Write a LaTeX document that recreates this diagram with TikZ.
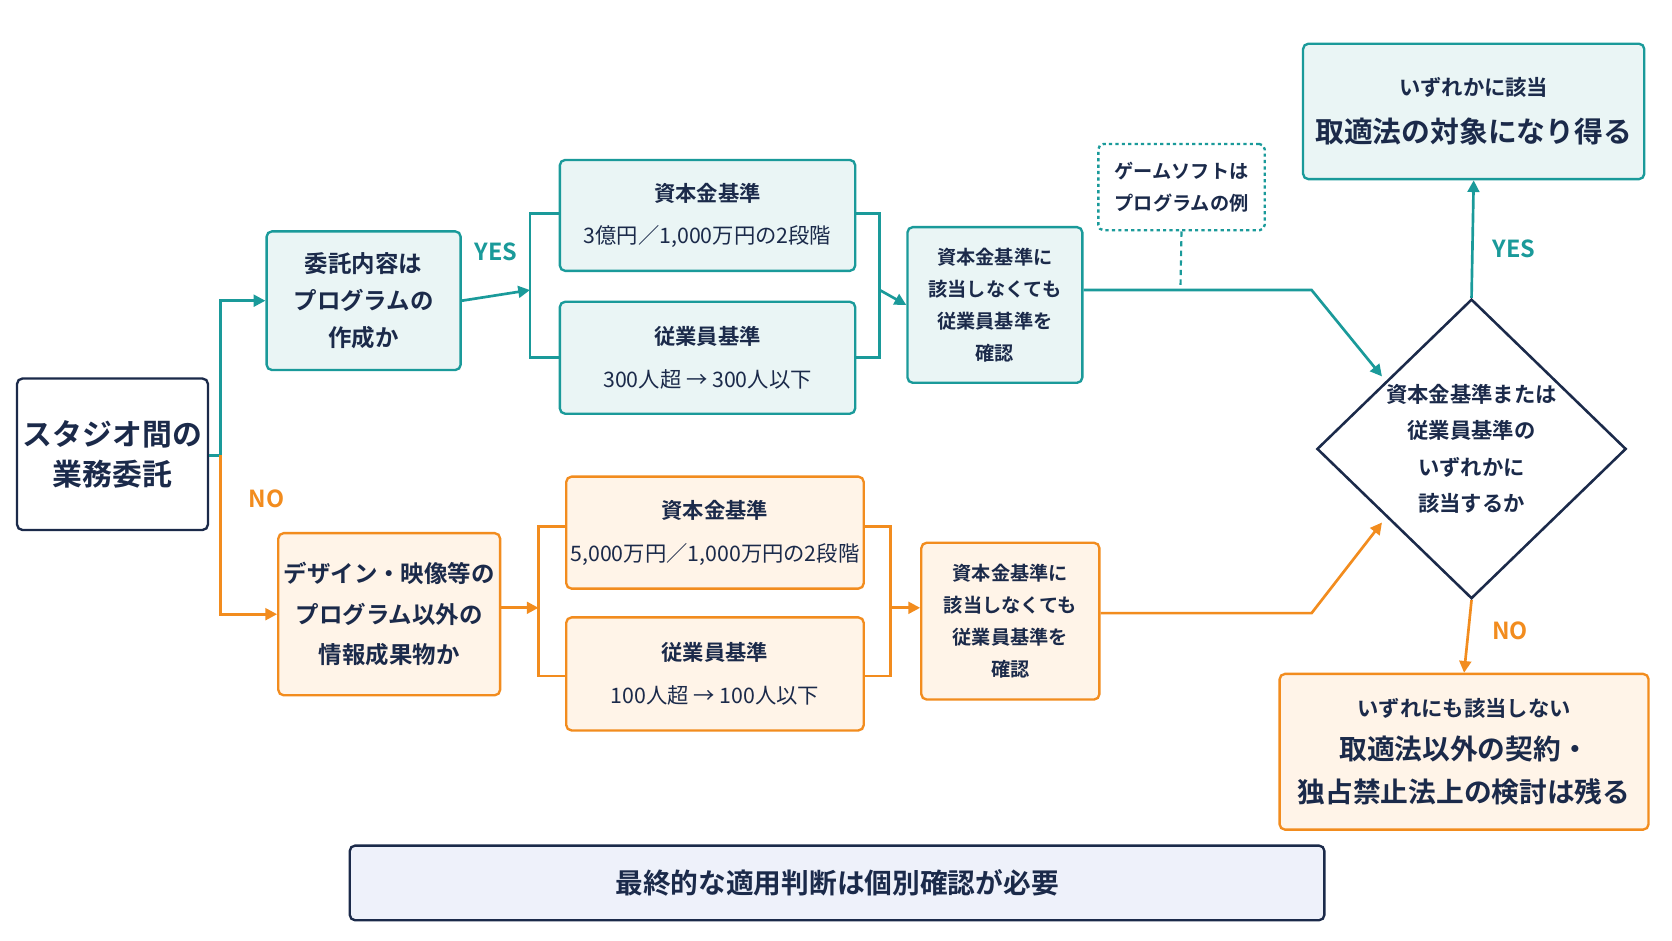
\documentclass[tikz,border=0pt]{standalone}
\usepackage{fontspec}
\setmainfont{Noto Sans CJK JP}[BoldFont={Noto Sans CJK JP Bold}]
\usetikzlibrary{arrows.meta,shapes.geometric}
\definecolor{teal1}{HTML}{1A9A9A}
\definecolor{tealf}{HTML}{EAF5F5}
\definecolor{or1}{HTML}{F28C1E}
\definecolor{orf}{HTML}{FFF4E8}
\definecolor{navy}{HTML}{1B2A4A}
\definecolor{bluef}{HTML}{EEF1FA}
\begin{document}
\begin{tikzpicture}[x=1pt,y=-1pt,
 bx/.style={draw,line width=2.2pt,rounded corners=5pt,align=center,inner sep=0pt,font=\fontsize{20}{27}\selectfont\bfseries,text=navy},
 tb/.style={bx,draw=teal1,fill=tealf},
 ob/.style={bx,draw=or1,fill=orf},
 tl/.style={teal1,line width=2.5pt},
 ol/.style={or1,line width=2.5pt},
 arr/.style={-{Triangle[length=11pt,width=11pt]}},
 lab/.style={font=\fontsize{22}{24}\selectfont\bfseries}]
\useasboundingbox (0,0) rectangle (1568,882);
\fill[white] (0,0) rectangle (1568,882);
\def\B#1#2#3#4#5#6{\node[#1,minimum width=#4-#2,minimum height=#5-#3] (#6) at ({(#2+#4)/2},{(#3+#5)/2})}
\B{bx,draw=navy,fill=white,font=\fontsize{28}{38}\selectfont\bfseries}{16}{355}{195}{497}{start} {スタジオ間の\\業務委託};
\B{tb,font=\fontsize{22}{35}\selectfont\bfseries}{250}{217}{432}{347}{q1} {委託内容は\\プログラムの\\作成か};
\B{tb,font=\fontsize{20}{40}\selectfont\bfseries}{525}{150}{802}{254}{tc} {資本金基準\\\mdseries 3億円／1,000万円の2段階};
\B{tb,font=\fontsize{20}{40}\selectfont\bfseries}{525}{283}{802}{388}{te} {従業員基準\\\mdseries 300人超 → 300人以下};
\B{tb,font=\fontsize{18}{30}\selectfont\bfseries}{851}{213}{1015}{359}{tk} {資本金基準に\\該当しなくても\\従業員基準を\\確認};
\B{bx,draw=teal1,dashed,fill=white,font=\fontsize{18}{30}\selectfont\bfseries}{1030}{135}{1186}{216}{gm} {ゲームソフトは\\プログラムの例};
\B{tb,font=\fontsize{20}{44}\selectfont\bfseries}{1222}{41}{1542}{168}{yes} {いずれかに該当\\{\fontsize{27}{30}\selectfont 取適法の対象になり得る}};
\node[draw=navy,fill=white,line width=2.4pt,diamond,minimum width=290pt,minimum height=270pt,inner sep=0pt,align=center,font=\fontsize{20}{34}\selectfont\bfseries,text=navy] (dia) at (1380,421) {資本金基準または\\従業員基準の\\いずれかに\\該当するか};
\B{ob,font=\fontsize{22}{38}\selectfont\bfseries}{261}{500}{469}{652}{q2} {デザイン・映像等の\\プログラム以外の\\情報成果物か};
\B{ob,font=\fontsize{20}{40}\selectfont\bfseries}{531}{447}{810}{552}{oc} {資本金基準\\\mdseries 5,000万円／1,000万円の2段階};
\B{ob,font=\fontsize{20}{40}\selectfont\bfseries}{531}{579}{810}{685}{oe} {従業員基準\\\mdseries 100人超 → 100人以下};
\B{ob,font=\fontsize{18}{30}\selectfont\bfseries}{864}{509}{1031}{656}{ok} {資本金基準に\\該当しなくても\\従業員基準を\\確認};
\B{ob,font=\fontsize{20}{40}\selectfont\bfseries}{1200}{632}{1546}{778}{no} {いずれにも該当しない\\{\fontsize{26}{38}\selectfont 取適法以外の契約・}\\{\fontsize{26}{38}\selectfont 独占禁止法上の検討は残る}};
\B{bx,draw=navy,fill=bluef,font=\fontsize{26}{30}\selectfont\bfseries}{328}{793}{1242}{863}{fin} {最終的な適用判断は個別確認が必要};
% connectors
\draw[tl,arr] (start.east|-0,427) -- (207,427) |- (q1.west);
\draw[ol,arr] (207,427) |- (q2.west);
\node[lab,teal1] at (465,236) {YES};
\node[lab,or1] at (250,468) {NO};
\coordinate (tb1) at (497,272);
\draw[tl,arr] (q1.east) -- (tb1);
\draw[tl] (tc.west|-0,200) -| (497,335) -- (te.west|-0,335);
\draw[tl] (tc.east|-0,200) -| (825,335) -- (te.east|-0,335);
\draw[tl,arr] (825,272) -- (tk.west);
\coordinate (dt) at (1296,353);
\draw[tl,arr] (tk.east|-0,272) -- (1230,272) -- (dt);
\draw[teal1,line width=2pt,dash pattern=on 5pt off 4pt] (gm.south) -- (1107,272);
\coordinate (ob1) at (505,570);
\draw[ol,arr] (q2.east|-0,570) -- (ob1);
\draw[ol] (oc.west|-0,494) -| (505,634) -- (oe.west|-0,634);
\draw[ol] (oc.east|-0,494) -| (835,634) -- (oe.east|-0,634);
\draw[ol,arr] (835,570) -- (ok.west|-0,570);
\coordinate (db) at (1296,490);
\draw[ol,arr] (ok.east|-0,575) -- (1230,575) -- (db);
\draw[tl,arr] (dia.north) -- (yes.south);
\node[lab,teal1] at (1420,233) {YES};
\draw[ol,arr] (dia.south) -- (no.north);
\node[lab,or1] at (1416,592) {NO};
\end{tikzpicture}
\end{document}
